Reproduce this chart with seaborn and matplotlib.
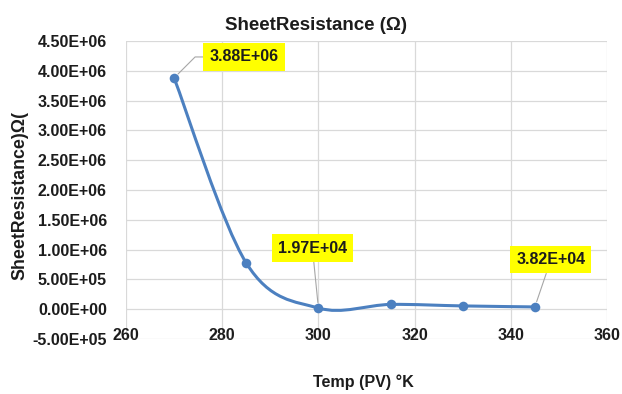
import matplotlib
matplotlib.use("Agg")
import matplotlib.pyplot as plt
import seaborn as sns
import pandas as pd
from matplotlib.path import Path
from matplotlib.patches import PathPatch

# ---- data ----
temps = [270, 285, 300, 315, 330, 345]
sheet_resistance = [3.88e6, 7.75e5, 1.97e4, 8.0e4, 5.5e4, 3.82e4]
x_ticks = [260, 280, 300, 320, 340, 360]
y_ticks = [-5e5, 0, 5e5, 1e6, 1.5e6, 2e6, 2.5e6, 3e6, 3.5e6, 4e6, 4.5e6]
labeled_points = [0, 2, 5]
title = "SheetResistance (Ω)"
x_label = "Temp (PV) °K"
y_label = "SheetResistance)Ω("

sns.set_theme(style="white")
plt.rcParams["font.family"] = ["Liberation Sans", "DejaVu Sans"]
plt.rcParams["font.weight"] = "bold"

line_color = "#4c80c0"
text_color = "#1c1c1c"

fig = plt.figure(figsize=(6.22, 3.94), dpi=100)
ax = fig.add_axes([126 / 622, 1 - 339 / 394, 481 / 622, 298 / 394])

df = pd.DataFrame({"temp": temps, "res": sheet_resistance})

# smoothed line (Catmull-Rom style Bezier through the data points, like Excel's smoothing)
pts = list(zip(df["temp"], df["res"]))
verts = [pts[0]]
codes = [Path.MOVETO]
n = len(pts)
for i in range(n - 1):
    p0 = pts[i - 1] if i > 0 else pts[i]
    p1 = pts[i]
    p2 = pts[i + 1]
    p3 = pts[i + 2] if i + 2 < n else pts[i + 1]
    c1 = (p1[0] + (p2[0] - p0[0]) / 6, p1[1] + (p2[1] - p0[1]) / 6)
    c2 = (p2[0] - (p3[0] - p1[0]) / 6, p2[1] - (p3[1] - p1[1]) / 6)
    verts += [c1, c2, p2]
    codes += [Path.CURVE4] * 3
ax.add_patch(PathPatch(Path(verts, codes), facecolor="none", edgecolor=line_color,
                       lw=2.2, transform=ax.transData, zorder=2, capstyle="round"))

sns.scatterplot(data=df, x="temp", y="res", color=line_color, s=48, linewidth=0,
                zorder=3, ax=ax, legend=False)

ax.set_xlim(260, 360)
ax.set_ylim(-5e5, 4.5e6)
ax.set_xticks(x_ticks)
ax.set_xticklabels([str(v) for v in x_ticks])
ax.set_yticks(y_ticks)
ax.set_yticklabels([f"{v:.2E}" for v in y_ticks])
ax.set_xlabel("")
ax.set_ylabel("")
ax.grid(True, color="#d9d9d9", lw=0.9)
ax.set_axisbelow(True)
for s in ax.spines.values():
    s.set_visible(False)
ax.spines["bottom"].set_position(("data", 0))
ax.tick_params(axis="both", length=0, labelsize=11.5, labelcolor=text_color)
ax.tick_params(axis="x", pad=13.5)
ax.tick_params(axis="y", pad=13.7)

# data labels
label_offsets = {0: (70, 21), 2: (-6, 60), 5: (16, 47)}
label_conn = {0: "angle,angleA=0,angleB=45,rad=0", 2: "arc3", 5: "arc3"}
for i in labeled_points:
    ax.annotate(f"{sheet_resistance[i]:.2E}", xy=(temps[i], sheet_resistance[i]),
                xytext=label_offsets[i], textcoords="offset pixels",
                ha="center", va="center", fontsize=11.5, fontweight="bold", color=text_color,
                bbox=dict(boxstyle="square,pad=0.38", fc="#ffff00", ec="none"),
                arrowprops=dict(arrowstyle="-", color="#a6a6a6", lw=0.8, shrinkA=0,
                                shrinkB=4, connectionstyle=label_conn[i]),
                zorder=4)

fig.text(316 / 622, 1 - 26 / 394, title, ha="center", va="center", fontsize=13.5,
         fontweight="bold", color=text_color)
fig.text(20 / 622, 1 - 196 / 394, y_label, rotation=90, ha="center", va="center",
         fontsize=12.8, fontweight="bold", color=text_color)
fig.text(363 / 622, 1 - 382 / 394, x_label, ha="center", va="center", fontsize=11.6,
         fontweight="bold", color=text_color)

fig.savefig("out.png", dpi=100)
